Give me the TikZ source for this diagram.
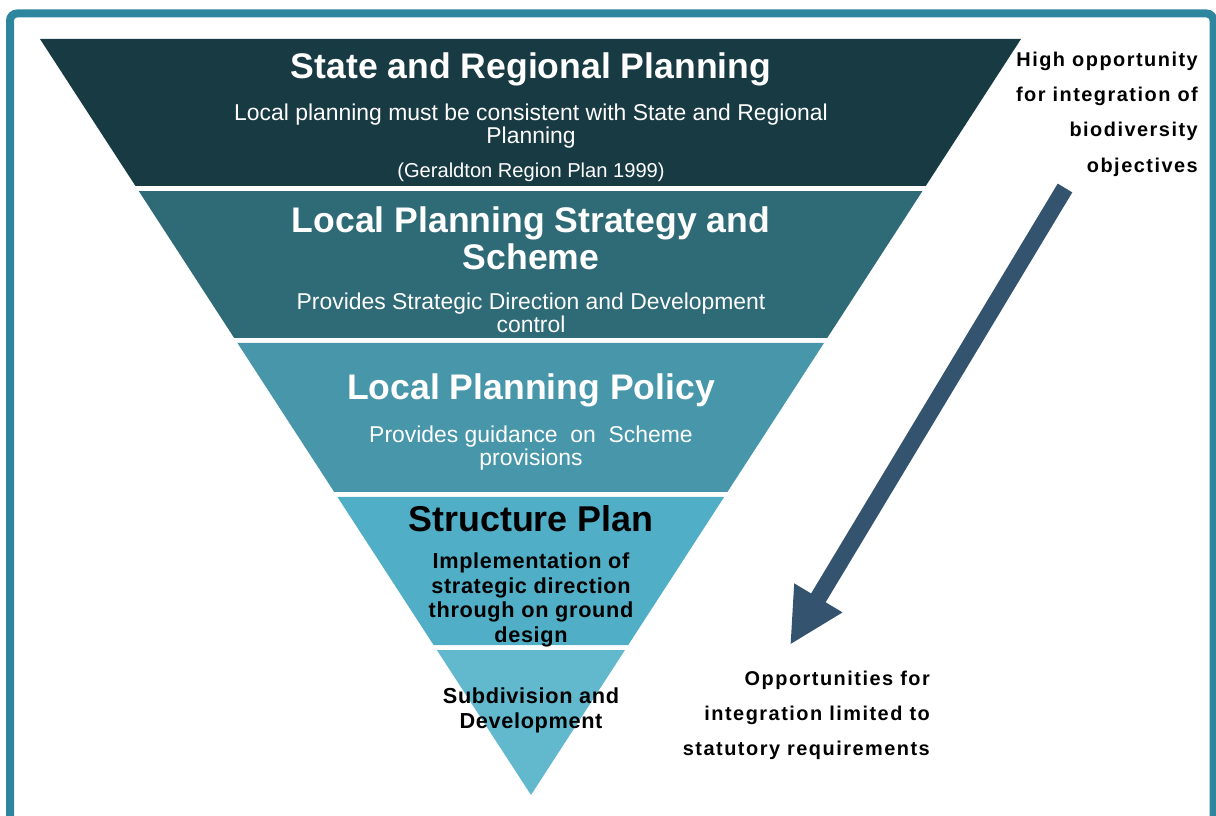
\documentclass[tikz,border=0pt]{standalone}
\usepackage{fontspec}
\setmainfont{Liberation Sans}
\usepackage{tikz}
\usetikzlibrary{calc,arrows.meta,positioning}
\definecolor{framecol}{HTML}{2E869E}
\definecolor{bandA}{HTML}{183A43}
\definecolor{bandB}{HTML}{2F6B77}
\definecolor{bandC}{HTML}{4796AA}
\definecolor{bandD}{HTML}{50AFC7}
\definecolor{bandE}{HTML}{62B9CE}
\definecolor{arrowcol}{HTML}{34536E}
\tikzset{
  every node/.style={inner sep=0pt, align=center},
  bandtitle/.style={text=white, font=\bfseries\fontsize{35.7}{37}\selectfont},
  bandnote/.style={text=white, font=\fontsize{23}{23.5}\selectfont},
  darktitle/.style={text=black, font=\bfseries\fontsize{36}{37}\selectfont},
  darknote/.style={text=black, font=\bfseries\addfontfeature{LetterSpace=3}\fontsize{21.8}{24.7}\selectfont},
  sidenote/.style={text=black, align=right, font=\bfseries\addfontfeature{LetterSpace=7.5}\fontsize{20}{35.4}\selectfont}
}
\begin{document}
\begin{tikzpicture}[x=1bp, y=-1bp]
  \useasboundingbox (0,0) rectangle (1216,816);
  \clip (0,0) rectangle (1216,816);
  % frame
  \draw[framecol, line width=8bp, rounded corners=7bp] (10,13.5) rectangle (1213.5,850);
  % the funnel
  \coordinate (tl) at (40,39);
  \coordinate (tr) at (1021,39);
  \coordinate (apex) at (531,795);
  \foreach \ta/\tb/\col in {0/.1944/bandA, .2011/.3955/bandB, .4021/.5992/bandC,
                           .6058/.8016/bandD, .8082/1/bandE}
    \fill[\col] ($(tl)!\ta!(apex)$) -- ($(tr)!\ta!(apex)$) -- ($(tr)!\tb!(apex)$) -- ($(tl)!\tb!(apex)$) -- cycle;
  % band texts
  \node[bandtitle] (state) at (531,69) {State and Regional Planning};
  \node[bandnote] (statenote) at (531,126) {Local planning must be consistent with State and Regional\\Planning};
  \node[bandnote, font=\fontsize{20.2}{22}\selectfont] (geraldton) at (531,172) {(Geraldton Region Plan 1999)};
  \node[bandtitle] (strategy) at (531,238) {Local Planning Strategy and\\Scheme};
  \node[bandnote] (strategynote) at (531,313) {Provides Strategic Direction and Development\\control};
  \node[bandtitle] (policy) at (531,390) {Local Planning Policy};
  \node[bandnote] (policynote) at (531,448) {Provides guidance~ on~ Scheme\\provisions};
  \node[darktitle] (structure) at (531,519) {Structure Plan};
  \node[darknote] (structurenote) at (531,600) {Implementation of\\strategic direction\\through on ground\\design};
  \node[darknote] (subdivision) at (531,710.5) {Subdivision and\\Development};
  % side notes
  \node[sidenote, anchor=east] (high) at (1198,114) {High opportunity\\for integration of\\biodiversity\\objectives};
  \node[sidenote, anchor=east] (low) at (930,715.5) {Opportunities for\\integration limited to\\statutory requirements};
  \coordinate (arrowfrom) at (1065,188);
  \coordinate (arrowto) at (790,645);
  \draw[arrowcol, line width=17bp, -{Triangle[length=55bp, width=52bp]}] (arrowfrom) -- (arrowto);
\end{tikzpicture}
\end{document}
